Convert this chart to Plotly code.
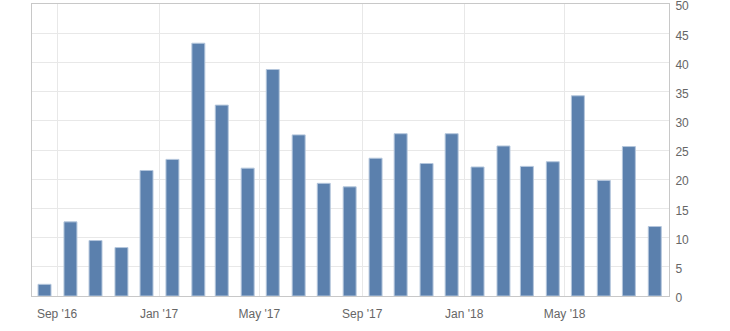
import plotly.graph_objects as go

months = ["2016-08", "2016-09", "2016-10", "2016-11", "2016-12",
          "2017-01", "2017-02", "2017-03", "2017-04", "2017-05", "2017-06",
          "2017-07", "2017-08", "2017-09", "2017-10", "2017-11", "2017-12",
          "2018-01", "2018-02", "2018-03", "2018-04", "2018-05", "2018-06",
          "2018-07", "2018-08"]
values = [2.0, 12.7, 9.5, 8.3, 21.5, 23.4, 43.3, 32.7, 21.9, 38.8, 27.6,
          19.3, 18.7, 23.6, 27.8, 22.7, 27.8, 22.1, 25.7, 22.2, 23.0, 34.3,
          19.8, 25.6, 11.9]
tick_dates = ["2016-09-01", "2017-01-01", "2017-05-01", "2017-09-01",
              "2018-01-01", "2018-05-01"]
tick_labels = ["Sep '16", "Jan '17", "May '17", "Sep '17", "Jan '18", "May '18"]
y_ticks = [0, 5, 10, 15, 20, 25, 30, 35, 40, 45, 50]

x = [m + "-17" for m in months]
DAY = 86400000

fig = go.Figure(go.Bar(
    x=x, y=values,
    width=[15.5 * DAY] * len(x),
    marker=dict(color="#5b80ad", line=dict(color="#b4c6dc", width=1)),
    hoverinfo="x+y",
))

grid = "#e8e8e8"
fig.update_layout(
    width=730, height=331,
    margin=dict(l=32, r=61, t=4, b=35),
    paper_bgcolor="white", plot_bgcolor="white",
    showlegend=False,
    font=dict(family="Liberation Sans, Arial, sans-serif", size=12, color="#666666"),
    xaxis=dict(
        type="date",
        range=["2016-08-02", "2018-09-03"],
        tickmode="array", tickvals=tick_dates, ticktext=tick_labels,
        automargin=False,
        showgrid=True, gridcolor=grid, gridwidth=1,
        ticks="outside", ticklen=7, tickcolor="rgba(0,0,0,0)",
        showline=True, linecolor="#c8c8c8", linewidth=1, mirror=True,
        zeroline=False,
    ),
    yaxis=dict(
        side="right", range=[0, 50.02],
        tickmode="array", tickvals=y_ticks, ticktext=[str(v) for v in y_ticks],
        ticklabeloverflow="allow", automargin=False, ticklabelshift=2,
        showgrid=True, gridcolor=grid, gridwidth=1,
        showline=True, linecolor="#c8c8c8", linewidth=1, mirror=True,
        zeroline=False,
        ticks="outside", ticklen=3, tickcolor="rgba(0,0,0,0)",
    ),
)

fig.write_html("out.html")
